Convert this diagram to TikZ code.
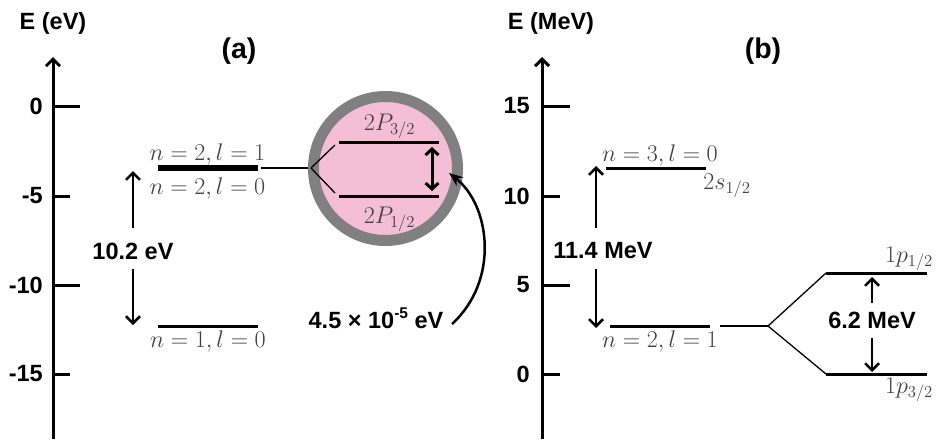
\documentclass[tikz,border=0pt]{standalone}
\usepackage{graphicx}
\usepackage{fontspec}
\setsansfont{Liberation Sans}
\usetikzlibrary{arrows.meta}
\definecolor{pinkfill}{RGB}{243,190,214}
\definecolor{ringgray}{RGB}{128,128,128}
\definecolor{labgray}{RGB}{65,65,65}
\newcommand{\mlab}[1]{\scalebox{1.16}{\fontsize{20.74}{24}\selectfont$#1$}}
\tikzset{
  axisline/.style={line width=3pt,-{Straight Barb[length=7pt,width=14pt]}},
  tickline/.style={line width=3pt},
  level/.style={line width=3pt},
  thicklevel/.style={line width=6pt},
  thinline/.style={line width=1.3pt},
  sflab/.style={font=\sffamily\bfseries\fontsize{23.5}{26}\selectfont, inner sep=0pt},
  titlelab/.style={font=\sffamily\bfseries\fontsize{28.5}{32}\selectfont, inner sep=0pt},
  ticklab/.style={font=\sffamily\bfseries\fontsize{23.5}{26}\selectfont, inner sep=0pt, anchor=east},
  mathlab/.style={text=labgray, inner sep=0pt, anchor=base},
  gaparrow/.style={line width=2.5pt,-{Straight Barb[length=7pt,width=14pt]}},
  splitarrow/.style={line width=3pt,{Straight Barb[length=6pt,width=13pt]}-{Straight Barb[length=6pt,width=13pt]}},
  curvearrow/.style={line width=2.5pt,-{Stealth[length=14pt,width=11pt]}},
}
\begin{document}
\begin{tikzpicture}[x=1pt,y=-1pt]
\useasboundingbox (0,0) rectangle (939,439);
% ---------------- panel (a) ----------------
\coordinate (aaxb) at (53,439);
\coordinate (aaxt) at (53,57);
\draw[axisline] (aaxb) -- (aaxt);
\foreach \y/\l/\len/\n in {106/0/27/a0, 196/-5/17/a1, 285/-10/27/a2, 374/-15/17/a3}{
  \coordinate (\n s) at (53,\y);
  \coordinate (\n e) at (53+\len,\y);
  \draw[tickline] (\n s) -- (\n e);
  \node[ticklab] (\n lab) at (43,\y) {\l};
}
\node[sflab, anchor=base] (aE) at (53,29) {E (eV)};
\node[titlelab, anchor=base] (atitle) at (239,58) {(a)};
% levels
\coordinate (a2l) at (158,168);
\coordinate (a2r) at (258,168);
\draw[thicklevel] (a2l) -- (a2r);
\coordinate (a2t) at (261,168);
\coordinate (asplit) at (310,168);
\draw[thinline] (a2t) -- (asplit);
\node[mathlab] (la21) at (207.5,160) {\mlab{n=2,l=1}};
\node[mathlab] (la20) at (207.5,194) {\mlab{n=2,l=0}};
\coordinate (a1l) at (158,326);
\coordinate (a1r) at (258,326);
\draw[level] (a1l) -- (a1r);
\node[mathlab] (la10) at (208,347) {\mlab{n=1,l=0}};
% 10.2 eV arrows
\node[sflab] (l102) at (133,251) {10.2 eV};
\coordinate (u1) at (133,228);
\coordinate (u2) at (133,171);
\coordinate (d1) at (133,269);
\coordinate (d2) at (133,325);
\draw[gaparrow] (u1) -- (u2);
\draw[gaparrow] (d1) -- (d2);
% circle
\node[circle, minimum size=144pt, inner sep=0pt, fill=pinkfill, draw=ringgray, line width=11pt] (circ) at (385.5,168.5) {};
\coordinate (p3l) at (339,142);
\coordinate (p3r) at (439,142);
\coordinate (p1l) at (339,196);
\coordinate (p1r) at (439,196);
\draw[level] (p3l) -- (p3r);
\draw[level] (p1l) -- (p1r);
\coordinate (cs1) at (311,168);
\coordinate (cs1e) at (335,145);
\coordinate (cs2e) at (335,193);
\draw[thinline] (cs1) -- (cs1e);
\draw[thinline] (cs1) -- (cs2e);
\node[mathlab] (lp3) at (389.5,130) {\mlab{2P_{3/2}}};
\node[mathlab] (lp1) at (389.5,223) {\mlab{2P_{1/2}}};
\coordinate (da1) at (432,147);
\coordinate (da2) at (432,191);
\draw[splitarrow] (da1) -- (da2);
% fine-structure label and curved arrow
\node[sflab] (lfs) at (376,318) {4.5 \texttimes{} 10\raisebox{0.42em}{\fontsize{15.5}{16}\selectfont -5} eV};
\coordinate (cvs) at (452,324);
\coordinate (cve) at (449,173);
\draw[curvearrow] (cvs) .. controls (500,280) and (490,205) .. (cve);
% ---------------- panel (b) ----------------
\coordinate (baxb) at (542,439);
\coordinate (baxt) at (542,57);
\draw[axisline] (baxb) -- (baxt);
\foreach \y/\l/\len/\n in {106/15/28/b0, 196/10/18/b1, 285/5/28/b2, 374/0/18/b3}{
  \coordinate (\n s) at (542,\y);
  \coordinate (\n e) at (542+\len,\y);
  \draw[tickline] (\n s) -- (\n e);
  \node[ticklab] (\n lab) at (530,\y) {\l};
}
\node[sflab, anchor=base] (bE) at (551,29) {E (MeV)};
\node[titlelab, anchor=base] (btitle) at (763,58) {(b)};
\coordinate (b3l) at (606,168);
\coordinate (b3r) at (706,168);
\draw[level] (b3l) -- (b3r);
\node[mathlab] (lb30) at (660,161) {\mlab{n=3,l=0}};
\node[mathlab] (lb2s) at (727,189) {\mlab{2s_{1/2}}};
\coordinate (b2l) at (610,326);
\coordinate (b2r) at (710,326);
\draw[level] (b2l) -- (b2r);
\coordinate (b2t) at (720,326);
\coordinate (bsplit) at (768,326);
\draw[thinline] (b2t) -- (bsplit);
\node[mathlab] (lb21) at (660,347) {\mlab{n=2,l=1}};
\coordinate (bpu) at (826,273);
\coordinate (bpd) at (826,374);
\draw[thinline] (bsplit) -- (bpu);
\draw[thinline] (bsplit) -- (bpd);
\coordinate (bpur) at (927,273);
\coordinate (bpdr) at (927,374);
\draw[level] (bpu) -- (bpur);
\draw[level] (bpd) -- (bpdr);
\node[mathlab] (lp12) at (909,262) {\mlab{1p_{1/2}}};
\node[mathlab] (lp32) at (909,393) {\mlab{1p_{3/2}}};
% 11.4 MeV
\node[sflab] (l114) at (603,251) {11.4 MeV};
\coordinate (bu1) at (596,228);
\coordinate (bu2) at (596,166);
\coordinate (bd1) at (596,269);
\coordinate (bd2) at (596,328);
\draw[gaparrow] (bu1) -- (bu2);
\draw[gaparrow] (bd1) -- (bd2);
% 6.2 MeV
\node[sflab] (l62) at (872,320) {6.2 MeV};
\coordinate (su1) at (872,303);
\coordinate (su2) at (872,277);
\coordinate (sd1) at (872,338);
\coordinate (sd2) at (872,372);
\draw[gaparrow] (su1) -- (su2);
\draw[gaparrow] (sd1) -- (sd2);
\end{tikzpicture}
\end{document}
